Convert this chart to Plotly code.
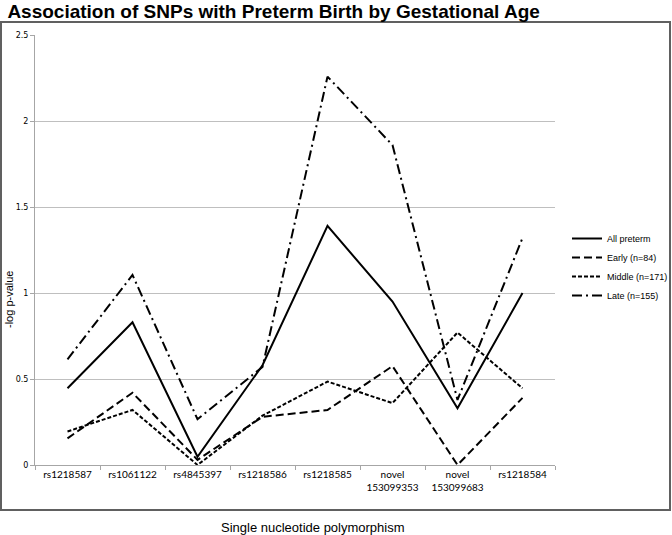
import plotly.graph_objects as go

categories = ["rs1218587", "rs1061122", "rs4845397", "rs1218586", "rs1218585",
              "novel<br>153099353", "novel<br>153099683", "rs1218584"]
all_preterm = [0.446, 0.83, 0.048, 0.58, 1.39, 0.95, 0.33, 1.0]
early = [0.155, 0.42, 0.03, 0.28, 0.32, 0.575, 0.0, 0.39]
middle = [0.195, 0.32, 0.0, 0.287, 0.485, 0.36, 0.77, 0.446]
late = [0.614, 1.105, 0.266, 0.57, 2.258, 1.86, 0.378, 1.32]

series = [
    ("All preterm", all_preterm, "solid"),
    ("Early (n=84)", early, "8px,4px"),
    ("Middle (n=171)", middle, "4px,2px"),
    ("Late (n=155)", late, "10px,4px,2px,4px"),
]

fig = go.Figure()
for name, vals, dash in series:
    fig.add_trace(go.Scatter(x=categories, y=vals, name=name, mode="lines",
                             line=dict(color="black", width=2, dash=dash)))

fig.update_layout(
    width=672, height=535,
    margin=dict(l=35, r=117, t=35, b=70, autoexpand=False),
    paper_bgcolor="white", plot_bgcolor="white",
    title=dict(text="<b>Association of SNPs with Preterm Birth by Gestational Age</b>",
               x=0.011, xanchor="left", y=1 - 11 / 535, yanchor="middle",
               font=dict(family="Liberation Sans, Arial", size=19, color="black")),
    showlegend=True,
    legend=dict(xref="container", yref="container", x=567 / 672, y=1 - 224 / 535,
                xanchor="left", yanchor="top",
                font=dict(family="Liberation Sans, Arial", size=9, color="black"),
                bgcolor="rgba(0,0,0,0)", tracegroupgap=0, itemwidth=30),
    xaxis=dict(type="category", range=[-0.5, 7.5], tickson="boundaries", automargin=False,
               ticks="outside", ticklen=4, tickcolor="#a6a6a6",
               showline=True, linecolor="#a6a6a6", linewidth=1, showgrid=False,
               tickfont=dict(family="Lato, Liberation Sans", size=10, color="black")),
    yaxis=dict(range=[0, 2.5], tickvals=[0, 0.5, 1, 1.5, 2, 2.5],
               ticktext=["0", "0.5", "1", "1.5", "2", "2.5"], automargin=False,
               ticks="outside", ticklen=4, tickcolor="#a6a6a6",
               showline=True, linecolor="#a6a6a6", linewidth=1,
               showgrid=True, gridcolor="#bfbfbf", gridwidth=1, zeroline=False,
               tickfont=dict(family="DejaVu Sans, Verdana", size=8, color="black")),
    annotations=[
        dict(text="Single nucleotide polymorphism", xref="paper", yref="paper",
             x=(313 - 35) / 520, y=(465 - 527) / 430, xanchor="center", yanchor="middle",
             showarrow=False, font=dict(family="Liberation Sans, Arial", size=13, color="black")),
        dict(text="-log p-value", xref="paper", yref="paper", textangle=-90,
             x=(9 - 35) / 520, y=(465 - 300) / 430, xanchor="center", yanchor="middle",
             showarrow=False, font=dict(family="Liberation Sans, Arial", size=11, color="black")),
    ],
    shapes=[dict(type="rect", xref="paper", yref="paper",
                 x0=(1 - 35) / 520, x1=(670 - 35) / 520,
                 y0=(465 - 510) / 430, y1=(465 - 22) / 430,
                 line=dict(color="#606060", width=2), layer="below")],
)

fig.write_html("out.html", config={"displayModeBar": False},
               post_script="document.body.style.margin='0';document.body.style.overflow='hidden';")
